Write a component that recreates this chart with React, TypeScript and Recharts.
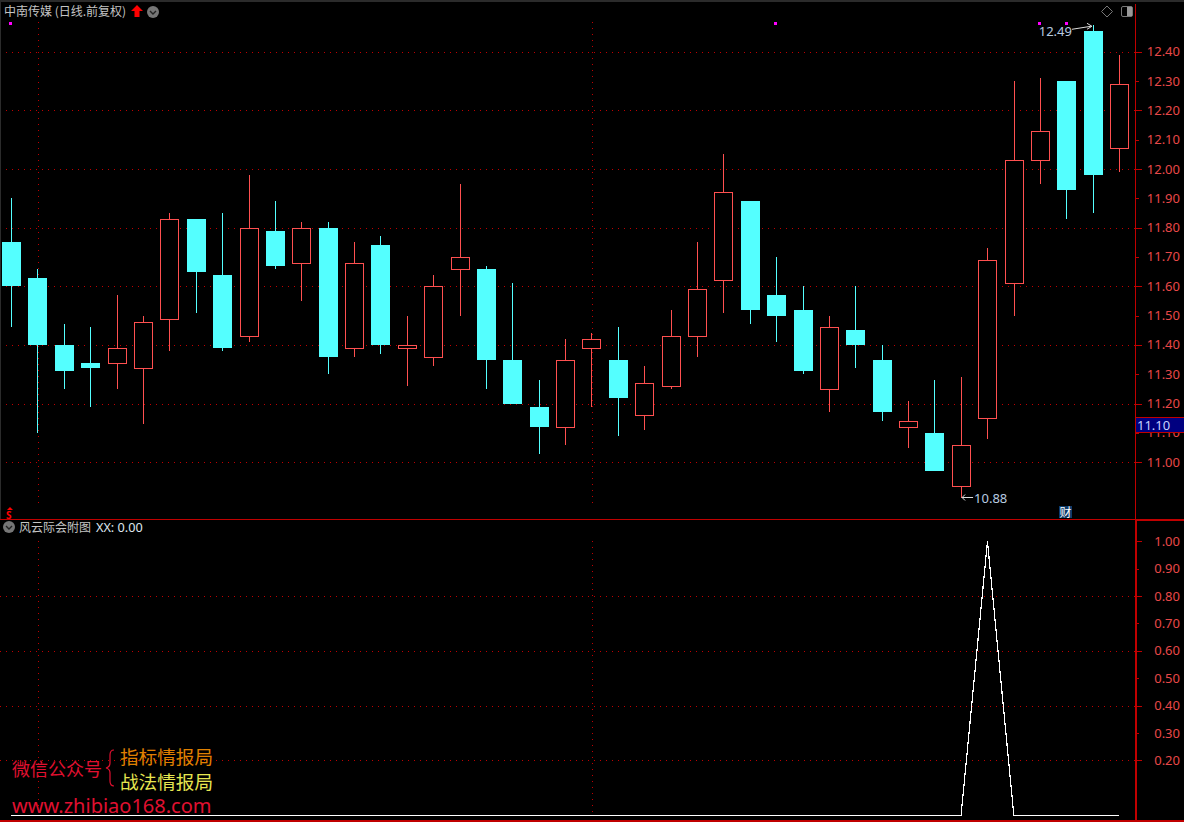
import React from 'react';
import {
  ComposedChart,
  Bar,
  Line,
  XAxis,
  YAxis,
  CartesianGrid,
  ReferenceLine,
  ReferenceDot,
} from 'recharts';

// prices, one entry per daily candle
const opens = [
  11.75, 11.63, 11.4, 11.34, 11.34, 11.32, 11.49, 11.83, 11.64, 11.43, 11.79, 11.68, 11.8, 11.39,
  11.74, 11.39, 11.36, 11.66, 11.66, 11.35, 11.19, 11.12, 11.39, 11.35, 11.16, 11.26, 11.43, 11.62,
  11.89, 11.57, 11.52, 11.25, 11.45, 11.35, 11.12, 11.1, 10.92, 11.15, 11.61, 12.03, 12.3, 12.47,
  12.07,
];
const closes = [
  11.6, 11.4, 11.31, 11.32, 11.39, 11.48, 11.83, 11.65, 11.39, 11.8, 11.67, 11.8, 11.36, 11.68,
  11.4, 11.4, 11.6, 11.7, 11.35, 11.2, 11.12, 11.35, 11.42, 11.22, 11.27, 11.43, 11.59, 11.92,
  11.52, 11.5, 11.31, 11.46, 11.4, 11.17, 11.14, 10.97, 11.06, 11.69, 12.03, 12.13, 11.93, 11.98,
  12.29,
];
const highs = [
  11.9, 11.66, 11.47, 11.46, 11.57, 11.5, 11.85, 11.83, 11.85, 11.98, 11.89, 11.82, 11.82, 11.75,
  11.77, 11.5, 11.64, 11.95, 11.67, 11.61, 11.28, 11.42, 11.44, 11.46, 11.33, 11.52, 11.75, 12.05,
  11.89, 11.7, 11.6, 11.5, 11.6, 11.4, 11.21, 11.28, 11.29, 11.73, 12.3, 12.31, 12.3, 12.49,
  12.39,
];
const lows = [
  11.46, 11.1, 11.25, 11.19, 11.25, 11.13, 11.38, 11.51, 11.38, 11.41, 11.66, 11.55, 11.3, 11.36,
  11.37, 11.26, 11.33, 11.5, 11.25, 11.2, 11.03, 11.06, 11.19, 11.09, 11.11, 11.25, 11.36, 11.51,
  11.47, 11.41, 11.3, 11.17, 11.32, 11.14, 11.05, 10.97, 10.88, 11.08, 11.5, 11.95, 11.83, 11.85,
  11.99,
];
const signalSlots = [0, 29, 39, 40];
const signalLevel = 12.5;
const peakSlot = 37;

const priceTicks = [
  11.0, 11.1, 11.2, 11.3, 11.4, 11.5, 11.6, 11.7, 11.8, 11.9, 12.0, 12.1, 12.2, 12.3, 12.4,
];
const priceGrid = [11.0, 11.2, 11.4, 11.6, 11.8, 12.0, 12.2, 12.4];
const xxTicks = [0.2, 0.3, 0.4, 0.5, 0.6, 0.7, 0.8, 0.9, 1.0];
const xxGrid = [0.2, 0.4, 0.6, 0.8];

const priceDomain = [10.8067, 12.5626];
const xxDomain = [-0.0172, 1.0777];

const priceData = highs.map((high, i) => ({
  slot: String(i),
  open: opens[i],
  close: closes[i],
  high,
  low: lows[i],
  range: [lows[i], high],
  signal: signalSlots.includes(i) ? signalLevel : null,
}));
const xxData = highs.map((_, i) => ({ slot: String(i), xx: i === peakSlot ? 1 : 0 }));

const RED = '#ff5050';
const CYAN = '#54ffff';
const AXIS = '#c00000';
const GRID = '#c00000';
const LABEL = '#e84848';
const NUM_FONT = '"Noto Sans", "Liberation Sans", sans-serif';
const CJK_FONT = '"Noto Sans CJK SC", sans-serif';

// dots snapped to whole pixels, a dashed crispEdges line drops some rows
const DottedLine = (props: any) => {
  const { x1, y1, x2, y2 } = props;
  const vertical = Math.abs(x1 - x2) < 0.5;
  const px = Math.round(x1) + (vertical ? 0.5 : 0);
  const py = Math.round(y1) + (vertical ? 0 : 0.5);
  return (
    <line
      key={`${x1}-${y1}`}
      x1={px}
      y1={py}
      x2={vertical ? px : Math.round(x2)}
      y2={vertical ? Math.round(y2) : py}
      stroke={GRID}
      strokeDasharray="1 5"
    />
  );
};

const Candle = (props: any) => {
  const { x, width, y, height, payload } = props;
  const { open, close, high, low } = payload;
  const perUnit = Math.abs(height) / (high - low);
  const at = (v: number) => y + (high - v) * perUnit;
  // bars land a little right of the line points on the same axis
  const cx = Math.round(x + width / 2 - 0.6);
  const up = close >= open;
  const top = Math.round(at(Math.max(open, close)));
  const bottom = Math.round(at(Math.min(open, close)));
  const color = up ? RED : CYAN;
  return (
    <g shapeRendering="crispEdges">
      <line x1={cx + 0.5} x2={cx + 0.5} y1={Math.round(at(high))} y2={Math.round(at(low))} stroke={color} />
      {up ? (
        <rect x={cx - 8.5} y={top + 0.5} width={18} height={Math.max(bottom - top, 1)} fill="#000" stroke={RED} />
      ) : (
        <rect x={cx - 9} y={top} width={19} height={Math.max(bottom - top, 1)} fill={CYAN} />
      )}
    </g>
  );
};

const SignalDot = (props: any) => {
  const { cx, cy, index } = props;
  if (cy == null || priceData[index].signal == null) return <g key={index} />;
  return <rect key={index} x={Math.round(cx) - 2} y={Math.round(cy)} width={3} height={3} fill="#ff00ff" />;
};

const makeTick = (majors: number[]) => (props: any) => {
  const { x, y, payload } = props;
  const major = majors.some((m) => Math.abs(m - payload.value) < 0.001);
  const py = Math.round(y) + 0.5;
  return (
    <g>
      <line x1={x} x2={x + (major ? 6 : 3)} y1={py} y2={py} stroke={AXIS} shapeRendering="crispEdges" />
      <text x={1180} y={y + 4.5} textAnchor="end" fontFamily={NUM_FONT} fontSize={13} fill={LABEL}>
        {payload.value.toFixed(2)}
      </text>
    </g>
  );
};

const EmptyTick = () => <g />;

const HighNote = (props: any) => {
  const { cx, cy } = props;
  return (
    <g>
      <text x={cx - 21} y={cy + 10.5} textAnchor="end" fontFamily={NUM_FONT} fontSize={13} fill="#b8cbe0">
        12.49
      </text>
      <path d={`M${cx - 21} ${cy + 4} L${cx - 2} ${cy + 1} M${cx - 6} ${cy - 2} L${cx - 1} ${cy + 1} L${cx - 6} ${cy + 4}`} stroke="#ddd" fill="none" />
    </g>
  );
};

const LowNote = (props: any) => {
  const { cx, cy } = props;
  return (
    <g>
      <path d={`M${cx + 1} ${cy} L${cx + 12} ${cy} M${cx + 4} ${cy - 3} L${cx + 1} ${cy} L${cx + 4} ${cy + 3}`} stroke="#ddd" fill="none" />
      <text x={cx + 13} y={cy + 5} fontFamily={NUM_FONT} fontSize={13} fill="#b8cbe0">
        10.88
      </text>
    </g>
  );
};

const box = (left: number, top: number, width: number, height: number, background: string): React.CSSProperties => ({
  position: 'absolute',
  left,
  top,
  width,
  height,
  background,
});

const Label = ({ left, top, size, color, font = CJK_FONT, bold = false, children }: any) => (
  <div
    style={{
      position: 'absolute',
      left,
      top,
      fontSize: size,
      color,
      fontFamily: font,
      fontWeight: bold ? 700 : 400,
      lineHeight: 1,
      whiteSpace: 'pre',
    }}
  >
    {children}
  </div>
);

const Chevron = ({ left, top }: { left: number; top: number }) => (
  <svg style={{ position: 'absolute', left, top }} width={12} height={12}>
    <circle cx={6} cy={6} r={6} fill="#767676" />
    <path d="M3 5 L6 8 L9 5" stroke="#222" strokeWidth={1.4} fill="none" />
  </svg>
);

export default function App() {
  return (
    <div style={{ position: 'absolute', left: 0, top: 0, width: 1184, height: 822, background: '#000', overflow: 'hidden' }}>
      {/* grid sits in its own layer so the dotted lines stay behind the candles */}
      <div style={{ position: 'absolute', left: 0, top: 0 }}>
        <ComposedChart width={1184} height={519} data={priceData} margin={{ top: 4, right: 0, bottom: 0, left: 0 }}>
          <CartesianGrid vertical={false} horizontalValues={priceGrid} horizontal={DottedLine} />
          <XAxis dataKey="slot" hide scale="band" padding={{ left: -1.8, right: 2.95 }} />
          <YAxis
            orientation="right"
            width={48.5}
            domain={priceDomain}
            allowDataOverflow
            ticks={priceGrid}
            interval={0}
            tickSize={0}
            tickMargin={0}
            tickLine={false}
            axisLine={false}
            tick={EmptyTick}
          />
          <ReferenceLine segment={[{ x: '1', y: 12.5 }, { x: '1', y: 10.85 }]} shape={DottedLine} />
          <ReferenceLine segment={[{ x: '22', y: 12.5 }, { x: '22', y: 10.85 }]} shape={DottedLine} />
        </ComposedChart>
      </div>

      <div style={{ position: 'absolute', left: 0, top: 0 }}>
        <ComposedChart width={1184} height={519} data={priceData} margin={{ top: 4, right: 0, bottom: 0, left: 0 }}>
          <XAxis dataKey="slot" hide padding={{ left: -1.8, right: 2.95 }} />
          <YAxis
            orientation="right"
            width={48.5}
            domain={priceDomain}
            allowDataOverflow
            ticks={priceTicks}
            interval={0}
            tickSize={0}
            tickMargin={0}
            tickLine={false}
            axisLine={{ stroke: AXIS }}
            tick={makeTick(priceGrid)}
          />
          <Bar dataKey="range" barSize={19} shape={<Candle />} isAnimationActive={false} />
          <Line dataKey="signal" stroke="none" dot={<SignalDot />} activeDot={false} legendType="none" isAnimationActive={false} />
          <ReferenceDot x="41" y={12.49} shape={<HighNote />} />
          <ReferenceDot x="36" y={10.88} shape={<LowNote />} />
        </ComposedChart>
      </div>

      <div style={{ position: 'absolute', left: 0, top: 520 }}>
        <ComposedChart width={1184} height={300} data={xxData} margin={{ top: 0, right: 0, bottom: 0, left: 0 }}>
          <CartesianGrid vertical={false} horizontalValues={xxGrid} horizontal={DottedLine} />
          <XAxis dataKey="slot" hide scale="band" padding={{ left: -1.8, right: 3.45 }} />
          <YAxis
            orientation="right"
            width={48}
            domain={xxDomain}
            allowDataOverflow
            ticks={xxTicks}
            interval={0}
            tickSize={0}
            tickMargin={0}
            tickLine={false}
            axisLine={{ stroke: AXIS, strokeWidth: 2 }}
            tick={makeTick([0.2, 0.4, 0.6, 0.8, 1.0])}
          />
          <ReferenceLine segment={[{ x: '1', y: 1.0 }, { x: '1', y: -0.008 }]} shape={DottedLine} />
          <ReferenceLine segment={[{ x: '22', y: 1.0 }, { x: '22', y: -0.008 }]} shape={DottedLine} />
          <Line
            type="linear"
            dataKey="xx"
            stroke="#fff"
            strokeWidth={1.2}
            dot={false}
            activeDot={false}
            shapeRendering="crispEdges"
            isAnimationActive={false}
          />
        </ComposedChart>
      </div>

      {/* pane frame */}
      <div style={box(0, 0, 1184, 2, '#2b2b2b')} />
      <div style={box(0, 0, 1, 519, '#2b2b2b')} />
      <div style={box(0, 519, 1136, 1, AXIS)} />
      <div style={box(1135, 519, 49, 2, AXIS)} />
      <div style={box(0, 820, 1184, 2, AXIS)} />

      {/* last price tag */}
      <div
        style={{
          ...box(1136, 417, 48, 16, '#000080'),
          borderTop: `1px solid ${AXIS}`,
          borderBottom: `1px solid ${AXIS}`,
          color: '#c8d0ff',
          fontFamily: NUM_FONT,
          fontSize: 13,
          lineHeight: '14px',
          paddingLeft: 1,
          boxSizing: 'border-box',
        }}
      >
        11.10
      </div>

      {/* top pane header */}
      <Label left={4} top={5} size={12} color="#c4c4c4">
        中南传媒 (日线.前复权)
      </Label>
      <svg style={{ position: 'absolute', left: 131, top: 5 }} width={12} height={13}>
        <path d="M6 0 L12 6 L8.5 6 L8.5 12 L3.5 12 L3.5 6 L0 6 Z" fill="#ff0000" />
      </svg>
      <Chevron left={147} top={6} />
      <svg style={{ position: 'absolute', left: 1100, top: 5 }} width={34} height={14}>
        <path d="M7 1 L12.5 6.5 L7 12 L1.5 6.5 Z" fill="none" stroke="#777" />
        <rect x={21.5} y={1.5} width={11} height={10} rx={1.5} fill="none" stroke="#777" />
        <rect x={27} y={2} width={5} height={9} fill="#999" />
      </svg>

      {/* bottom of the price pane */}
      <svg style={{ position: 'absolute', left: 6, top: 506 }} width={8} height={13}>
        <path d="M4 1 L7 4 L1 4 Z" fill="#ff0000" />
      </svg>
      <Label left={6} top={510} size={10} color="#ff0000" font={NUM_FONT} bold>
        S
      </Label>
      <div
        style={{
          ...box(1059, 506, 13, 12, '#0c3a68'),
          color: '#fff',
          fontFamily: CJK_FONT,
          fontSize: 12,
          lineHeight: '12px',
          textAlign: 'center',
        }}
      >
        财
      </div>

      {/* lower pane header */}
      <Chevron left={3} top={521} />
      <Label left={19} top={521} size={12} color="#c4c4c4">
        风云际会附图
      </Label>
      <Label left={96} top={521} size={12.7} color="#dfe6ee" font={NUM_FONT}>
        XX: 0.00
      </Label>

      {/* watermark */}
      <Label left={12} top={759} size={18} color="#e01030">
        微信公众号
      </Label>
      <svg style={{ position: 'absolute', left: 104, top: 749 }} width={12} height={38}>
        <path d="M10 1 Q6 1 6 6 L6 14 Q6 18 2 19 Q6 20 6 24 L6 32 Q6 37 10 37" fill="none" stroke="#e01030" strokeWidth={1.2} />
      </svg>
      <Label left={120} top={747} size={18.6} color="#e08000">
        指标情报局
      </Label>
      <Label left={120} top={772} size={18.6} color="#e6e650">
        战法情报局
      </Label>
      <Label left={12} top={796} size={20} color="#e01030" font={NUM_FONT}>
        www.zhibiao168.com
      </Label>
    </div>
  );
}
